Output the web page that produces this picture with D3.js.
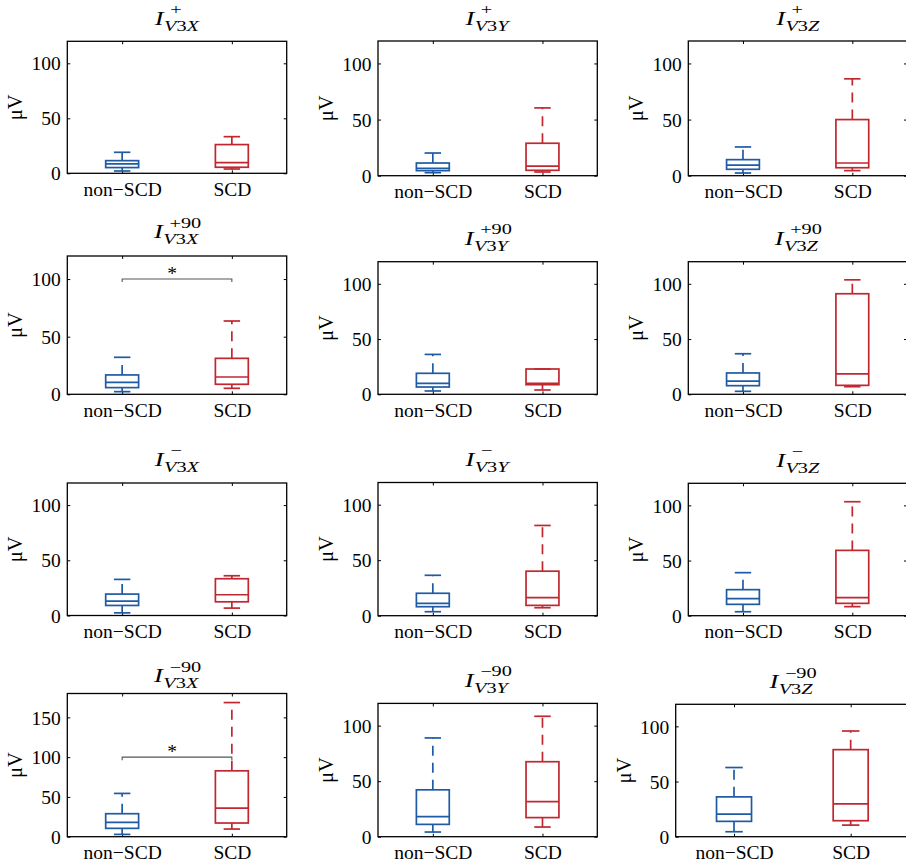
<!DOCTYPE html>
<html>
<head>
<meta charset="utf-8">
<script src="https://cdn.jsdelivr.net/npm/d3@7"></script>
<style>
  body { margin: 0; background: #fff; }
  svg { display: block; }
</style>
</head>
<body>
<svg id="chart" width="906" height="867"></svg>
<script>
// Group names on the x axis of every panel
const groups = ["non\u2212SCD", "SCD"];
// Lead component (columns) and current polarity (rows)
const components = ["X", "Y", "Z"];
const polarities = ["+", "+90", "\u2212", "\u221290"];

// Box statistics per panel, row by row: [lower whisker, Q1, median, Q3, upper whisker] in µV
const nonSCDStats = [
  [2.1, 5.2, 8.5, 11.5, 19.1],
  [2.7, 4.5, 6.5, 11.3, 20.2],
  [2.4, 5.7, 9.5, 14.3, 25.6],
  [2.3, 5.8, 10.4, 16.8, 32.1],
  [3.0, 6.6, 9.9, 19.0, 36.1],
  [2.7, 7.8, 12.0, 19.3, 36.7],
  [2.4, 9.1, 13.0, 19.4, 32.7],
  [3.6, 8.1, 11.1, 20.2, 36.4],
  [3.6, 10.3, 15.4, 23.6, 39.0],
  [2.9, 10.5, 18.0, 28.9, 54.4],
  [4.2, 11.1, 18.1, 42.2, 88.9],
  [4.5, 13.9, 20.5, 36.1, 62.7]
];
const scdStats = [
  [3.9, 5.5, 9.7, 26.1, 33.3],
  [3.3, 4.8, 8.6, 28.9, 60.4],
  [4.5, 7.1, 11.3, 50.0, 86.3],
  [5.2, 8.7, 15.0, 31.2, 63.6],
  [3.9, 8.7, 9.9, 22.9, 22.9],
  [6.9, 8.1, 18.4, 91.0, 103.6],
  [6.7, 12.4, 18.8, 33.3, 36.0],
  [7.2, 9.3, 16.3, 40.1, 81.3],
  [8.2, 11.2, 16.3, 59.2, 103.3],
  [9.6, 17.2, 36.0, 82.8, 168.6],
  [8.7, 17.2, 31.6, 67.5, 108.4],
  [10.5, 14.5, 29.8, 78.9, 95.8]
];

// Y-axis upper limits and tick labels
const yMax = [120, 120, 120, 120, 120, 120, 120, 120, 120, 180, 120, 120];
const yTicksSmall = [0, 50, 100];
const yTicksLarge = [0, 50, 100, 150];

// Significant group differences (bracket drawn at this level)
const significant = [false, false, false, true, false, false, false, false, false, true, false, false];
const bracketLevel = 100;

// Axes placement on the page (left, right, top, bottom, title baseline)
const panelBoxes = [
  { l: 67.3, r: 286.7, t: 41.3,  b: 173.3, ty: 25 },
  { l: 378,  r: 597.3, t: 41,    b: 175.7, ty: 25 },
  { l: 688.3, r: 907,  t: 41,    b: 175.7, ty: 25 },
  { l: 67.3, r: 286.7, t: 256,   b: 394.3, ty: 238.3 },
  { l: 378,  r: 597.3, t: 261.7, b: 394.3, ty: 245 },
  { l: 688.3, r: 907,  t: 261.7, b: 394.3, ty: 245 },
  { l: 67.3, r: 286.7, t: 483,   b: 615.5, ty: 466 },
  { l: 378,  r: 597.3, t: 482.5, b: 615.7, ty: 466 },
  { l: 688.3, r: 907,  t: 483.3, b: 615.7, ty: 466.5 },
  { l: 67.3, r: 286.7, t: 693.5, b: 836.7, ty: 682.3 },
  { l: 378,  r: 597.3, t: 703.4, b: 836.7, ty: 686.7 },
  { l: 675.7, r: 909,  t: 704.3, b: 836.7, ty: 688.3 }
];

const serif = "'Liberation Serif', 'Times New Roman', 'DejaVu Serif', serif";
const groupColors = ["#1f5aa5", "#c1272f"];
const labelSize = 19.5;
const tickLen = 3;

const svg = d3.select("#chart");

panelBoxes.forEach((pb, i) => {
  const row = Math.floor(i / 3), col = i % 3;
  const g = svg.append("g");

  const x = d3.scaleLinear().domain([0.5, 2.5]).range([pb.l, pb.r]);
  const y = d3.scaleLinear().domain([0, yMax[i]]).range([pb.b, pb.t]);
  const ticks = yMax[i] > 150 ? yTicksLarge : yTicksSmall;

  // Axes: inward ticks on all four sides, labels on left and bottom
  const left = g.append("g").attr("transform", `translate(${pb.l},0)`)
    .call(d3.axisLeft(y).tickValues(ticks).tickSize(-tickLen).tickPadding(tickLen + 3.5).tickFormat(d3.format("d")));
  const right = g.append("g").attr("transform", `translate(${pb.r},0)`)
    .call(d3.axisRight(y).tickValues(ticks).tickSize(-tickLen).tickFormat(""));
  const bottom = g.append("g").attr("transform", `translate(0,${pb.b})`)
    .call(d3.axisBottom(x).tickValues([1, 2]).tickSize(-tickLen).tickPadding(tickLen + 5).tickFormat(d => groups[d - 1]));
  const top = g.append("g").attr("transform", `translate(0,${pb.t})`)
    .call(d3.axisTop(x).tickValues([1, 2]).tickSize(-tickLen).tickFormat(""));
  [left, right, bottom, top].forEach(a => {
    a.attr("font-family", null).attr("font-size", null);
    a.select(".domain").remove();
    a.selectAll(".tick line").attr("stroke", "#000").attr("stroke-width", 1);
    a.selectAll("text").style("font-family", serif).style("font-size", labelSize + "px").attr("fill", "#000");
  });
  left.selectAll(".tick text").attr("dy", "0.34em");
  bottom.selectAll(".tick text").attr("dy", "0.75em");

  g.append("rect")
    .attr("x", pb.l).attr("y", pb.t)
    .attr("width", pb.r - pb.l).attr("height", pb.b - pb.t)
    .attr("fill", "none").attr("stroke", "#000").attr("stroke-width", 1.3);

  // Y label
  g.append("text")
    .attr("transform", `translate(${pb.l - 49.5},${(pb.t + pb.b) / 2}) rotate(-90)`)
    .attr("text-anchor", "middle").attr("dy", "0.22em")
    .style("font-family", serif).style("font-size", "20.5px")
    .text("\u03bcV");

  // Boxes
  [nonSCDStats[i], scdStats[i]].forEach((s, k) => {
    const cx = k + 1;
    const color = groupColors[k];
    const bx0 = x(cx - 0.15), bx1 = x(cx + 0.15);
    const cx0 = x(cx - 0.075), cx1 = x(cx + 0.075);
    const bg = g.append("g").attr("stroke", color).attr("stroke-width", 1.7).attr("fill", "none");
    // whiskers, dashed outward from the box edge
    bg.append("line").attr("x1", x(cx)).attr("x2", x(cx)).attr("y1", y(s[3])).attr("y2", y(s[4]))
      .attr("stroke-dasharray", "10,7");
    bg.append("line").attr("x1", x(cx)).attr("x2", x(cx)).attr("y1", y(s[1])).attr("y2", y(s[0]))
      .attr("stroke-dasharray", "10,7");
    // whisker caps
    bg.append("line").attr("x1", cx0).attr("x2", cx1).attr("y1", y(s[4])).attr("y2", y(s[4]));
    bg.append("line").attr("x1", cx0).attr("x2", cx1).attr("y1", y(s[0])).attr("y2", y(s[0]));
    // box and median
    bg.append("rect").attr("x", bx0).attr("y", y(s[3]))
      .attr("width", bx1 - bx0).attr("height", y(s[1]) - y(s[3]));
    bg.append("line").attr("x1", bx0).attr("x2", bx1).attr("y1", y(s[2])).attr("y2", y(s[2]));
  });

  // Significance bracket
  if (significant[i]) {
    const yb = y(bracketLevel);
    g.append("path")
      .attr("d", `M${x(1)},${yb + 3}V${yb}H${x(2)}V${yb + 3}`)
      .attr("fill", "none").attr("stroke", "#555").attr("stroke-width", 1.1);
    g.append("text")
      .attr("x", (x(1) + x(2)) / 2 - 5).attr("y", yb + 1)
      .attr("text-anchor", "middle")
      .style("font-family", serif).style("font-size", labelSize + "px")
      .text("*");
  }

  // Title: I with polarity superscript stacked over the V3<component> subscript
  const tg = g.append("g");
  const title = tg.append("text").attr("x", 0).attr("y", 0)
    .style("font-family", serif).style("font-size", "19px");
  title.append("tspan").attr("font-style", "italic").text("I");
  const sup = title.append("tspan").attr("dx", 4.7).attr("dy", -10.8)
    .style("font-size", "14.5px").text(polarities[row]);
  const supW = sup.node().getComputedTextLength();
  const sub = title.append("tspan").attr("dx", -(supW + 4.4)).attr("dy", 16.8).style("font-size", "14.5px");
  sub.append("tspan").attr("font-style", "italic").text("V");
  sub.append("tspan").text("3");
  sub.append("tspan").attr("font-style", "italic").text(components[col]);
  const bb = title.node().getBBox();
  const sx = 1.4;
  const cxTitle = (pb.l + pb.r) / 2;
  tg.attr("transform", `translate(${cxTitle - (bb.x + bb.width / 2) * sx},${pb.ty}) scale(${sx},1)`);
});
</script>
</body>
</html>
